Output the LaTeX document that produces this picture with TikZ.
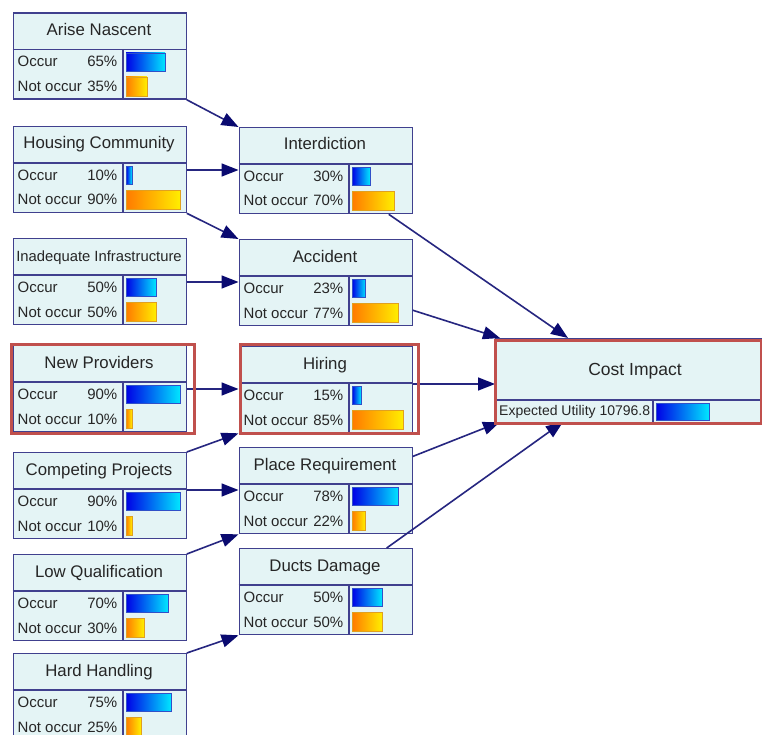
\documentclass[tikz,border=0pt]{standalone}
\usepackage{fontspec}
\setmainfont{Liberation Sans}
\usetikzlibrary{arrows.meta}

\definecolor{nodefill}{HTML}{E4F4F5}
\definecolor{nodeline}{HTML}{40408E}
\definecolor{arrowc}{HTML}{262680}
\definecolor{arrowhd}{HTML}{0A0A70}
\definecolor{hlred}{HTML}{C0504D}
\definecolor{barblueA}{HTML}{0000E6}
\definecolor{barblueB}{HTML}{00E6FF}
\definecolor{barblueE}{HTML}{3050C8}
\definecolor{barorA}{HTML}{FF7A00}
\definecolor{barorB}{HTML}{FFEE00}
\definecolor{barorE}{HTML}{E0A020}
\definecolor{txt}{HTML}{262626}

\tikzset{
  bbox/.style={draw=nodeline, fill=nodefill, line width=1.3pt, minimum width=173pt,
    minimum height=86pt, inner sep=0pt, anchor=north west},
  bline/.style={draw=nodeline, line width=1.3pt},
  hdr/.style={text=txt, anchor=base, inner sep=0pt},
  rowtxt/.style={font=\fontsize{15}{18}\selectfont, text=txt, inner sep=0pt},
  bluebar/.style={left color=barblueA, right color=barblueB, draw=barblueE, line width=0.8pt},
  orbar/.style={left color=barorA, right color=barorB, draw=barorE, line width=0.8pt},
  arr/.style={draw=arrowc, line width=1.6pt, -{Triangle[length=17pt,width=13pt,color=arrowhd]}},
  hl/.style={draw=hlred, line width=3pt},
}

% Belief node: name, left x, top y, title, title size, P(occur), P(not occur)
\newcommand{\bnode}[7]{%
  \begin{scope}[shift={(#2,-#3)}]
    \node[bbox] (#1) at (0,0) {};
    \coordinate (#1-in) at (0,-43);
    \draw[bline] (0,-37) -- (173,-37);
    \draw[bline] (110.5,-37) -- (110.5,-86);
    \node[hdr, font=\fontsize{#5}{20}\selectfont] at (86.5,-23) {#4};
    \node[rowtxt, anchor=base west] at (5,-54.5) {Occur};
    \node[rowtxt, anchor=base east] at (105,-54.5) {#6\%};
    \node[rowtxt, anchor=base west] at (5,-79) {Not occur};
    \node[rowtxt, anchor=base east] at (105,-79) {#7\%};
    \path[bluebar] (113.5,-40.5) rectangle ++(0.6*#6,-18);
    \path[orbar] (113.5,-64.5) rectangle ++(0.6*#7,-19);
  \end{scope}}

\begin{document}
\begin{tikzpicture}[x=1pt,y=1pt]
  \clip (0,0) rectangle (762,-735);
  \fill[white] (0,0) rectangle (762,-735);

  % cause nodes
  \bnode{arise}{12.5}{12.5}{Arise Nascent}{16.8}{65}{35}
  \bnode{housing}{12.5}{126}{Housing Community}{16.8}{10}{90}
  \bnode{inadequate}{12.5}{238}{Inadequate Infrastructure}{14.8}{50}{50}
  \bnode{newprov}{12.5}{345}{New Providers}{16.8}{90}{10}
  \bnode{competing}{12.5}{452}{Competing Projects}{16.8}{90}{10}
  \bnode{lowqual}{12.5}{554}{Low Qualification}{16.8}{70}{30}
  \bnode{hard}{12.5}{653}{Hard Handling}{16.8}{75}{25}

  % intermediate nodes
  \bnode{interdiction}{238.5}{127}{Interdiction}{16.8}{30}{70}
  \bnode{accident}{238.5}{239}{Accident}{16.8}{23}{77}
  \bnode{hiring}{238.5}{346}{Hiring}{16.8}{15}{85}
  \bnode{place}{238.5}{447}{Place Requirement}{16.8}{78}{22}
  \bnode{ducts}{238.5}{548}{Ducts Damage}{16.8}{50}{50}

  % utility node
  \begin{scope}[shift={(495,-338)}]
    \node[bbox, minimum width=280pt, minimum height=84pt] (cost) at (0,0) {};
    \draw[bline] (0,-62) -- (280,-62);
    \draw[bline] (158,-62) -- (158,-84);
    \node[hdr, font=\fontsize{17.5}{21}\selectfont] at (140,-37) {Cost Impact};
    \node[rowtxt, font=\fontsize{14}{17}\selectfont, anchor=base west] at (4,-77.5) {Expected Utility 10796.8};
    \path[bluebar] (161,-65) rectangle (214,-82);
    \coordinate (cost-i) at (73,0);
    \coordinate (cost-a) at (5,0);
    \coordinate (cost-h) at (0,-46);
    \coordinate (cost-p) at (5,-84);
    \coordinate (cost-d) at (68,-84);
  \end{scope}

  % links into the intermediate nodes
  \draw[arr] (arise.south east) -- (interdiction.north west);
  \draw[arr] (housing.east |- interdiction-in) -- (interdiction-in);
  \draw[arr] (housing.south east) -- (accident.north west);
  \draw[arr] (inadequate.east |- accident-in) -- (accident-in);
  \draw[arr] (newprov.east |- hiring-in) -- (hiring-in);
  \draw[arr] (competing.north east) -- (hiring.south west);
  \draw[arr] (competing.east |- place-in) -- (place-in);
  \draw[arr] (lowqual.north east) -- (place.south west);
  \draw[arr] (hard.north east) -- (ducts.south west);

  % links into the utility node
  \draw[arr] (interdiction) -- (cost-i);
  \draw[arr] (accident) -- (cost-a);
  \draw[arr] (hiring.east |- cost-h) -- (cost-h);
  \draw[arr] (place) -- (cost-p);
  \draw[arr] (ducts) -- (cost-d);

  % highlighted nodes
  \draw[hl] ([shift={(-1.5,1)}]newprov.north west) rectangle ([shift={(8,-1)}]newprov.south east);
  \draw[hl] ([shift={(1.5,1.5)}]hiring.north west) rectangle ([shift={(6,-0.5)}]hiring.south east);
  \draw[hl] ([shift={(0,-2)}]cost.north west) rectangle ([shift={(-15,0)}]cost.south east);
\end{tikzpicture}
\end{document}
